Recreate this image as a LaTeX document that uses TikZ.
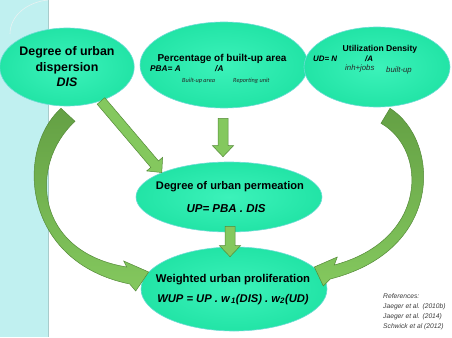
\documentclass[tikz,border=0pt]{standalone}
\usepackage{fontspec}
\setmainfont{Liberation Sans}
\newfontfamily\subfont{Carlito}
\usetikzlibrary{shapes.geometric, positioning, calc}
\definecolor{bubblegreen}{RGB}{34, 228, 166}
\definecolor{bubblelight}{RGB}{60, 242, 186}
\definecolor{bubbleedge}{RGB}{110, 220, 214}
\definecolor{arrowgreen}{RGB}{132, 200, 94}
\definecolor{arrowdark}{RGB}{100, 160, 68}
\definecolor{arrowedge}{RGB}{84, 138, 56}
\definecolor{stripcyan}{RGB}{192, 240, 240}
\definecolor{stripline}{RGB}{168, 204, 204}
\definecolor{refgray}{RGB}{60, 60, 60}

% straight block arrow between two named points
\newcommand{\blockarrow}[2]{%
  \coordinate (ba-base) at ($(#2)!11pt!(#1)$);
  \draw[straightarrow] ($(#1)!5pt!90:(#2)$) -- ($(ba-base)!5pt!-90:(#1)$)
    -- ($(ba-base)!10.5pt!-90:(#1)$) -- (#2)
    -- ($(ba-base)!10.5pt!90:(#1)$) -- ($(ba-base)!5pt!90:(#1)$)
    -- ($(#1)!5pt!-90:(#2)$) -- cycle;
}

\begin{document}
\begin{tikzpicture}[x=1pt, y=-1pt,
    bubble/.style={ellipse, inner sep=0pt, draw=bubbleedge, line width=0.6pt,
                   inner color=bubblelight, outer color=bubblegreen},
    straightarrow/.style={fill=arrowgreen, draw=arrowedge, line width=0.5pt},
    curvedarrow/.style={top color=arrowdark, bottom color=arrowgreen, draw=arrowedge, line width=0.5pt},
    subtext/.style={anchor=base west, inner sep=0pt, font=\fontsize{6.3}{7}\selectfont\subfont\itshape, text=black!85}]

    % background
    \useasboundingbox (0,0) rectangle (452,337);
    \fill[white] (0,0) rectangle (452,337);
    \fill[stripcyan] (0,0) rectangle (48,337);
    \draw[stripline, line width=0.6pt] (48,0) -- (48,337);
    \draw[white!75!stripline, line width=0.6pt] (10,34) .. controls (10,15) and (28,2) .. (48,0);

    % bubbles
    \node[bubble, minimum width=130pt, minimum height=78pt, align=center,
          font=\fontsize{12.4}{15.5}\selectfont\bfseries] (dis) at (67,67)
          {Degree of urban\\dispersion\\\textit{DIS}};

    \node[bubble, minimum width=168pt, minimum height=86pt] (pba) at (224,65) {};
    \node[font=\fontsize{10}{12}\selectfont\bfseries, anchor=base] (pba-title) at (222,62) {Percentage of built-up area};
    \node[anchor=base west, inner sep=0pt, font=\fontsize{8.3}{10}\selectfont\bfseries\itshape] (pba-eq) at (150,71.5) {PBA= A};
    \node[subtext] (pba-sub1) at (182,82) {Built-up area};
    \node[anchor=base west, inner sep=0pt, font=\fontsize{8.3}{10}\selectfont\bfseries\itshape] (pba-div) at (215,71.5) {/A};
    \node[subtext] (pba-sub2) at (233,82) {Reporting unit};

    \node[bubble, minimum width=146pt, minimum height=80pt] (ud) at (377,67) {};
    \node[font=\fontsize{8.6}{10}\selectfont\bfseries, anchor=base] (ud-title) at (380,52) {Utilization Density};
    \node[anchor=base west, inner sep=0pt, font=\fontsize{7.9}{10}\selectfont\bfseries\itshape] (ud-eq) at (313,62) {UD= N};
    \node[subtext, font=\fontsize{7.8}{9}\selectfont\itshape] (ud-sub1) at (345,70.5) {inh+jobs};
    \node[anchor=base west, inner sep=0pt, font=\fontsize{7.9}{10}\selectfont\bfseries\itshape] (ud-div) at (365,62) {/A};
    \node[subtext, font=\fontsize{7.8}{9}\selectfont\itshape] (ud-sub2) at (386,72.5) {built-up};

    \node[bubble, minimum width=186pt, minimum height=70pt] (up) at (229,197) {};
    \node[font=\fontsize{11.1}{13}\selectfont\bfseries, anchor=base] (up-title) at (230,189) {Degree of urban permeation};
    \node[font=\fontsize{11.5}{13}\selectfont\bfseries\itshape, anchor=base] (up-eq) at (226,212) {UP= PBA . DIS};

    \node[bubble, minimum width=186pt, minimum height=84pt] (wup) at (234,289) {};
    \node[font=\fontsize{11.3}{13}\selectfont\bfseries, anchor=base] (wup-title) at (233,282) {Weighted urban proliferation};
    \node[font=\fontsize{11.2}{13}\selectfont\bfseries\itshape, anchor=base] (wup-eq) at (233,302)
          {WUP = UP . w\textsubscript{\,1}(DIS) . w\textsubscript{2}(UD)};

    % references
    \node[anchor=north west, align=left, inner sep=0pt, text=refgray,
          font=\fontsize{6.7}{10}\selectfont\itshape] (refs) at (383,293)
          {References:\\Jaeger et al. (2010b)\\Jaeger et al. (2014)\\Schwick et al (2012)};

    % straight arrows
    \coordinate (a1-tail) at (dis.-45);
    \coordinate (a1-tip) at (up.160);
    \coordinate (a2-tail) at ($(pba.south)+(-1,10)$);
    \coordinate (a2-tip) at ($(up.north)+(-6,-5)$);
    \coordinate (a3-tail) at ($(up.south)+(1,-6)$);
    \coordinate (a3-tip) at ($(wup.north)+(-4,10)$);
    \blockarrow{a1-tail}{a1-tip}
    \blockarrow{a2-tail}{a2-tip}
    \blockarrow{a3-tail}{a3-tip}

    % curved arrows
    \coordinate (c1-out) at ($(dis.south)+(-6,2)$);
    \coordinate (c1-in) at ($(dis.south)+(8,15)$);
    \coordinate (c1-tip) at ($(wup.west)+(8,-17)$);
    \shade[curvedarrow] (c1-out) .. controls (15,150) and (22,262) .. ($(c1-tip)+(-19,12)$)
        -- ($(c1-tip)+(-13,19)$) -- (c1-tip) -- ($(c1-tip)+(-25,-11)$) -- ($(c1-tip)+(-22,-5)$)
        .. controls (35,252) and (28,165) .. (c1-in) -- cycle;

    \coordinate (c2-out) at ($(ud.south)+(13,1)$);
    \coordinate (c2-in) at ($(ud.south)+(4,16)$);
    \coordinate (c2-tip) at ($(wup.east)+(-13,-22)$);
    \shade[curvedarrow] (c2-out) .. controls (440,140) and (445,250) .. ($(c2-tip)+(16,12)$)
        -- ($(c2-tip)+(9,19)$) -- (c2-tip) -- ($(c2-tip)+(23,-10)$) -- ($(c2-tip)+(20,-2)$)
        .. controls (428,240) and (428,150) .. (c2-in) -- cycle;
\end{tikzpicture}
\end{document}
